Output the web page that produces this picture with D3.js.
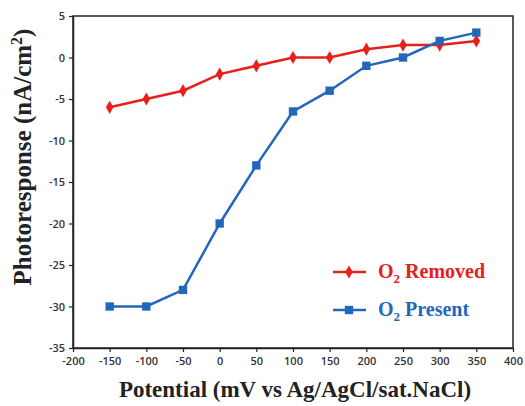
<!DOCTYPE html>
<html><head><meta charset="utf-8">
<script src="https://cdn.jsdelivr.net/npm/d3@7"></script>
<style>body{margin:0;background:#fff}svg{display:block}</style>
</head><body><div id="chart"></div>
<script>
const potentials = [-150,-100,-50,0,50,100,150,200,250,300,350];
const removedValues = [-6,-5,-4,-2,-1,0,0,1,1.5,1.5,2];
const presentValues = [-30,-30,-28,-20,-13,-6.5,-4,-1,0,2,3];
const xTicks = [-200,-150,-100,-50,0,50,100,150,200,250,300,350,400];
const yTicks = [5,0,-5,-10,-15,-20,-25,-30,-35];

const W=525,H=406;
const m={l:73,r:12,t:16,b:58};
const svg=d3.select("#chart").append("svg").attr("width",W).attr("height",H);
const x=d3.scaleLinear().domain([-200,400]).range([m.l,W-m.r]);
const y=d3.scaleLinear().domain([-35,5]).range([H-m.b,m.t]);

svg.append("rect").attr("x",m.l).attr("y",m.t).attr("width",x(400)-m.l).attr("height",y(-35)-m.t)
  .attr("fill","none").attr("stroke","#222").attr("stroke-width",1.5);

const fmt=d=>String(d);
const xa=svg.append("g").attr("transform",`translate(0,${y(-35)})`)
  .call(d3.axisBottom(x).tickValues(xTicks).tickFormat(fmt).tickSize(4).tickSizeOuter(0).tickPadding(5));
const ya=svg.append("g").attr("transform",`translate(${m.l},0)`)
  .call(d3.axisLeft(y).tickValues(yTicks).tickFormat(fmt).tickSize(4).tickSizeOuter(0).tickPadding(4));
[xa,ya].forEach(a=>{
  a.select(".domain").attr("stroke","#222").attr("stroke-width",1.5);
  a.selectAll(".tick line").attr("stroke","#222").attr("stroke-width",1.2);
  a.selectAll("text").attr("fill","#333").style("font-family","'Open Sans',Arial,sans-serif").style("font-size","11px").style("font-weight","600");
});

const line=d3.line().x((d,i)=>x(potentials[i])).y(d=>y(d));
const red="#e8201c", blue="#2367bd";
svg.append("path").datum(removedValues).attr("d",line).attr("fill","none").attr("stroke",red).attr("stroke-width",2.5);
svg.append("path").datum(presentValues).attr("d",line).attr("fill","none").attr("stroke",blue).attr("stroke-width",2.5);

const diamond=d3.symbol().type(d3.symbolDiamond).size(50);
const square=d3.symbol().type(d3.symbolSquare).size(70);
svg.selectAll(".r").data(removedValues).join("path").attr("d",diamond)
  .attr("transform",(d,i)=>`translate(${x(potentials[i])},${y(d)})`).attr("fill",red);
svg.selectAll(".b").data(presentValues).join("path").attr("d",square)
  .attr("transform",(d,i)=>`translate(${x(potentials[i])},${y(d)})`).attr("fill",blue);

// legend
const leg=[{c:red,s:diamond,t:"Removed",yy:272},{c:blue,s:square,t:"Present",yy:310}];
leg.forEach(l=>{
  svg.append("line").attr("x1",333).attr("x2",366).attr("y1",l.yy).attr("y2",l.yy).attr("stroke",l.c).attr("stroke-width",2.5);
  svg.append("path").attr("d",l.s).attr("transform",`translate(349,${l.yy})`).attr("fill",l.c);
  const t=svg.append("text").attr("x",378).attr("y",l.yy+6).attr("fill",l.c)
    .style("font-family","'Liberation Serif','Times New Roman',serif").style("font-weight","bold").style("font-size","20px");
  t.append("tspan").text("O");
  t.append("tspan").attr("dy",5).style("font-size","13px").text("2");
  t.append("tspan").attr("dy",-5).text(" "+l.t);
});

svg.append("text").attr("x",295).attr("y",397).attr("text-anchor","middle")
  .style("font-family","'Liberation Serif','Times New Roman',serif").style("font-weight","bold").style("font-size","23px").attr("fill","#222")
  .text("Potential (mV vs Ag/AgCl/sat.NaCl)");
const yt=svg.append("text").attr("transform",`translate(31,157) rotate(-90)`).attr("text-anchor","middle")
  .style("font-family","'Liberation Serif','Times New Roman',serif").style("font-weight","bold").style("font-size","25px").attr("fill","#222");
yt.append("tspan").text("Photoresponse (nA/cm");
yt.append("tspan").attr("dy",-9).style("font-size","16px").text("2");
yt.append("tspan").attr("dy",9).text(")");
</script></body></html>
